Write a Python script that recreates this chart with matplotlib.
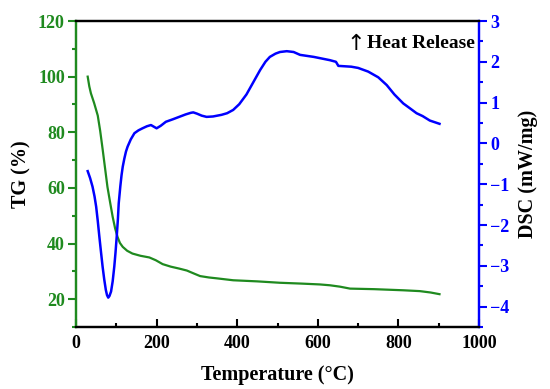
import matplotlib
matplotlib.use("Agg")
import matplotlib.pyplot as plt
from matplotlib.ticker import MultipleLocator

GREEN = "#1f8a1f"
BLUE = "#0000ff"

plt.rcParams["font.family"] = ["Liberation Serif", "DejaVu Serif"]
plt.rcParams["font.weight"] = "bold"

# TG curve (%)
tg_temp = [29, 33, 37, 45, 54, 60, 66, 72, 78, 85, 91, 97, 103, 109, 116, 127, 140,
           160, 182, 198, 215, 235, 256, 275, 293, 308, 330, 349, 390, 450, 506, 560,
           605, 630, 655, 680, 740, 812, 853, 880, 902]
tg_val = [100, 96.5, 94, 90.5, 86, 80.5, 74, 67.2, 60.4, 54.5, 49.6, 45.5, 42.4, 40.2,
          38.8, 37.4, 36.4, 35.6, 35.0, 34.0, 32.6, 31.7, 31.0, 30.3, 29.2, 28.3, 27.8,
          27.5, 26.8, 26.4, 25.9, 25.6, 25.3, 25.0, 24.5, 23.8, 23.6, 23.2, 22.9, 22.4,
          21.8]

# DSC curve (mW/mg)
dsc_temp = [29, 35, 41, 46, 50, 54, 58, 62, 66, 70, 74, 77, 80, 83, 87, 91, 95, 98, 101,
            104, 106, 110, 113, 116, 120, 124, 128, 136, 145, 155, 165, 176, 186, 193,
            200, 210, 223, 240, 256, 272, 285, 291, 300, 312, 324, 340, 361, 375, 390,
            405, 423, 440, 457, 470, 481, 495, 506, 523, 540, 556, 590, 630, 645, 651,
            683, 700, 725, 750, 771, 790, 812, 830, 845, 860, 878, 902]
dsc_val = [-0.68, -0.85, -1.06, -1.3, -1.55, -1.9, -2.29, -2.66, -3.02, -3.33, -3.59,
           -3.72, -3.78, -3.74, -3.63, -3.38, -3.02, -2.68, -2.29, -1.85, -1.47, -1.05,
           -0.78, -0.57, -0.37, -0.2, -0.08, 0.1, 0.25, 0.32, 0.37, 0.42, 0.45, 0.41,
           0.37, 0.43, 0.53, 0.59, 0.65, 0.71, 0.75, 0.76, 0.73, 0.68, 0.65, 0.66, 0.70,
           0.74, 0.82, 0.96, 1.2, 1.5, 1.80, 2.0, 2.12, 2.2, 2.24, 2.26, 2.24, 2.17, 2.12,
           2.04, 2.0, 1.90, 1.88, 1.85, 1.76, 1.62, 1.43, 1.2, 0.98, 0.85, 0.74, 0.67,
           0.56, 0.48]

fig = plt.figure(figsize=(5.5, 3.89), dpi=100)
ax = fig.add_axes([76 / 550, 1 - 327 / 389, (479 - 76) / 550, (327 - 21) / 389])
ax2 = ax.twinx()

ax.plot(tg_temp, tg_val, color=GREEN, lw=1.6, solid_joinstyle="round")
ax2.plot(dsc_temp, dsc_val, color=BLUE, lw=1.8, solid_joinstyle="round")

ax.set_xlim(0, 1000)
ax.set_ylim(10, 120)
ax2.set_ylim(-4.5, 3)

ax.xaxis.set_major_locator(MultipleLocator(200))
ax.xaxis.set_minor_locator(MultipleLocator(100))
ax.yaxis.set_major_locator(MultipleLocator(20))
ax.yaxis.set_minor_locator(MultipleLocator(10))
ax2.yaxis.set_major_locator(MultipleLocator(1))
ax2.yaxis.set_minor_locator(MultipleLocator(0.5))

for a in (ax, ax2):
    for s in a.spines.values():
        s.set_linewidth(1.6)
    a.spines["left"].set_color(GREEN)
    a.spines["right"].set_color(BLUE)

ax.tick_params(axis="x", which="both", direction="in", top=False, width=1.5,
               labelsize=13, colors="black", pad=6)
ax.tick_params(axis="x", which="major", length=6)
ax.tick_params(axis="x", which="minor", length=3)
ax.tick_params(axis="y", which="both", direction="out", width=1.5, colors=GREEN,
               labelsize=13, pad=2)
ax.tick_params(axis="y", which="major", length=6)
ax.tick_params(axis="y", which="minor", length=3)
ax2.tick_params(axis="y", which="both", direction="out", width=1.5, colors=BLUE,
                labelsize=13, pad=2)
ax2.tick_params(axis="y", which="major", length=6)
ax2.tick_params(axis="y", which="minor", length=3)

for lab in ax.get_xticklabels() + ax.get_yticklabels() + ax2.get_yticklabels():
    lab.set_fontweight("bold")

ax.set_xlabel("Temperature (°C)", fontsize=14.5, fontweight="bold", labelpad=9)
ax.set_ylabel("TG (%)", fontsize=14.5, fontweight="bold", labelpad=5)
ax2.set_ylabel("DSC (mW/mg)", fontsize=14.5, fontweight="bold", labelpad=6)

# heat release note with a tall thin arrow
ax2.text(0.99, 0.955, "Heat Release", transform=ax2.transAxes, ha="right", va="top",
         fontsize=14, fontweight="bold")
ax2.text(0.718, 0.958, "↑", transform=ax2.transAxes, ha="right", va="top",
         fontsize=16, fontweight="normal", family=["DejaVu Sans"])

fig.savefig("out.png", dpi=100, facecolor="white")
